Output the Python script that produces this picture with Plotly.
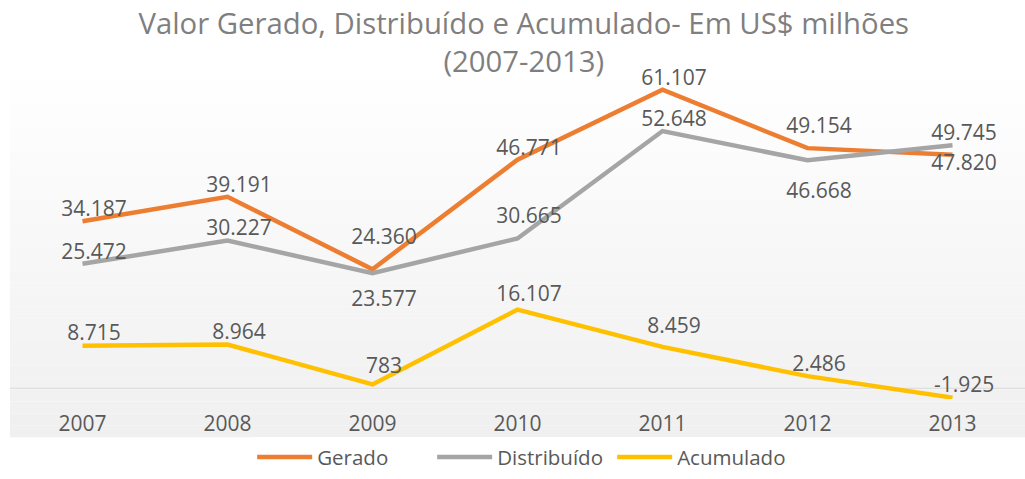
import plotly.graph_objects as go

years = ["2007", "2008", "2009", "2010", "2011", "2012", "2013"]
gerado = [34.187, 39.191, 24.360, 46.771, 61.107, 49.154, 47.820]
distribuido = [25.472, 30.227, 23.577, 30.665, 52.648, 46.668, 49.745]
acumulado = [8.715, 8.964, 0.783, 16.107, 8.459, 2.486, -1.925]

gerado_lbl = ["34.187", "39.191", "24.360", "46.771", "61.107", "49.154", "47.820"]
distribuido_lbl = ["25.472", "30.227", "23.577", "30.665", "52.648", "46.668", "49.745"]
acumulado_lbl = ["8.715", "8.964", "783", "16.107", "8.459", "2.486", "-1.925"]

# label placement (style): position and invisible spacer size per point
gerado_pos = ["top center"] * 6 + ["bottom center"]
distribuido_pos = ["top center", "top center", "bottom center", "top center",
                   "top center", "bottom center", "top center"]
acumulado_pos = ["top center"] * 7
gerado_gap = [0, 0, 30, 0, 0, 14, 0]
distribuido_gap = [0, 0, 26, 14, 0, 34, 0]
acumulado_gap = [0, 0, 8, 4, 13, 0, 0]

colors = {"Gerado": "#ED7D31", "Distribuído": "#A5A5A5", "Acumulado": "#FFC000"}
text_color = "#595959"
font_family = "Open Sans"

fig = go.Figure()

series = [("Gerado", gerado, gerado_lbl, gerado_pos, gerado_gap),
          ("Distribuído", distribuido, distribuido_lbl, distribuido_pos, distribuido_gap),
          ("Acumulado", acumulado, acumulado_lbl, acumulado_pos, acumulado_gap)]

for name, vals, lbls, pos, gap in series:
    fig.add_trace(go.Scatter(
        x=years, y=vals, name=name, mode="lines",
        line=dict(color=colors[name], width=4.5),
        cliponaxis=False, hoverinfo="skip",
    ))
for name, vals, lbls, pos, gap in series:
    fig.add_trace(go.Scatter(
        x=years, y=vals, name=name, mode="markers+text",
        marker=dict(size=gap, color="rgba(0,0,0,0)", opacity=0,
                    line=dict(width=0)),
        text=lbls, textposition=pos,
        textfont=dict(family=font_family, size=21, color=text_color),
        cliponaxis=False, showlegend=False, xaxis="x2",
    ))

y_min, y_max = -2.2, 63.1

# background gradient (plot area), drawn as thin stripes
n = 30
top_c, bot_c = (254, 254, 254), (240, 240, 240)
shapes = []
y_lo, y_hi = -0.12, 1.0
for i in range(n):
    f = i / (n - 1)
    c = tuple(round(top_c[k] + (bot_c[k] - top_c[k]) * f) for k in range(3))
    y1 = y_hi - (y_hi - y_lo) * i / n
    y0 = y_hi - (y_hi - y_lo) * (i + 1) / n
    shapes.append(dict(type="rect", xref="paper", yref="paper", x0=0, x1=1,
                       y0=y0, y1=y1, fillcolor="rgb(%d,%d,%d)" % c,
                       line=dict(width=0), layer="below"))

# vertical gridlines from zero up
for yr in years:
    shapes.append(dict(type="line", xref="x", yref="y", x0=yr, x1=yr,
                       y0=0, y1=y_max, line=dict(color="#D9D9D9", width=1),
                       layer="below"))
# zero axis line
shapes.append(dict(type="line", xref="paper", yref="y", x0=0, x1=1, y0=0, y1=0,
                   line=dict(color="#D9D9D9", width=1.2), layer="below"))

fig.update_layout(
    width=1025, height=479,
    margin=dict(l=10, r=0, t=80, b=80),
    paper_bgcolor="white", plot_bgcolor="rgba(0,0,0,0)",
    shapes=shapes,
    title=dict(text="Valor Gerado, Distribuído e Acumulado- Em US$ milhões<br>(2007-2013)",
               x=0.511, xanchor="center", xref="container", y=0.93, yanchor="top",
               font=dict(family=font_family, size=29.3, color="#7F7F7F")),
    xaxis=dict(type="category", range=[-0.5, 6.5], showgrid=False, zeroline=False,
               showline=False, ticks="outside", ticklen=6, tickcolor="rgba(0,0,0,0)",
               tickfont=dict(family=font_family, size=21, color=text_color)),
    xaxis2=dict(type="category", range=[-0.58, 6.42], overlaying="x", visible=False),
    yaxis=dict(range=[y_min, y_max], showgrid=False, zeroline=False,
               showticklabels=False, showline=False),
    legend=dict(orientation="h", x=0.246, xanchor="left", xref="container",
                y=0.004, yanchor="bottom", yref="container", itemwidth=55,
                entrywidth=110, entrywidthmode="pixels",
                font=dict(family=font_family, size=20.5, color=text_color)),
    showlegend=True,
)

fig.write_html("out.html")
